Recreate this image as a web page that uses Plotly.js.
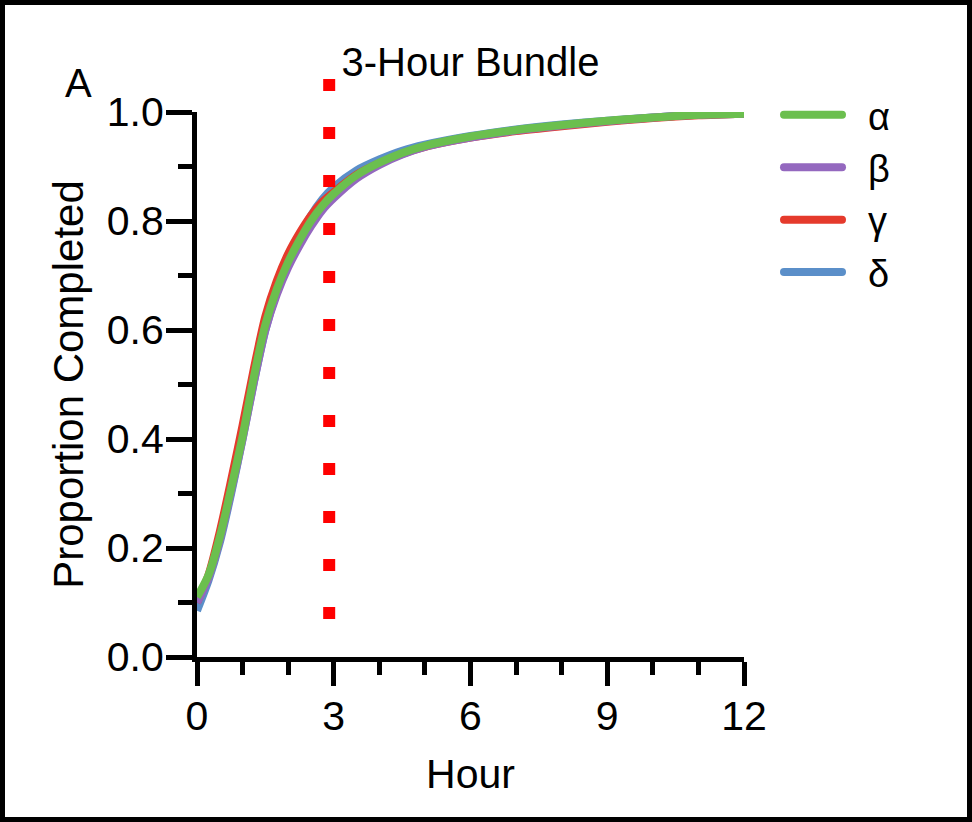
<!DOCTYPE html>
<html>
<head>
<meta charset="utf-8">
<script src="https://cdn.plot.ly/plotly-3.0.1.min.js"></script>
<style>
  html, body { margin: 0; padding: 0; background: #fff; }
  #wrap { position: relative; width: 972px; height: 822px; }
  #chart { width: 972px; height: 822px; }
  #frame { position: absolute; left: 0; top: 0; width: 972px; height: 822px; box-sizing: border-box; border: 5px solid #000; pointer-events: none; }
  #chart .legendlines path { stroke-linecap: round; stroke-dasharray: 58px 200px; }
</style>
</head>
<body>
<div id="wrap"><div id="chart"></div><div id="frame"></div></div>
<script>
// ---- data ----
const hours = [0, 0.25, 0.5, 0.75, 1, 1.25, 1.5, 1.75, 2, 2.25, 2.5, 2.75, 3, 3.5, 4, 4.5, 5, 6, 7, 8, 9, 10, 11, 12];
const alpha = [0.11, 0.15, 0.22, 0.31, 0.405, 0.515, 0.61, 0.675, 0.725, 0.765, 0.80, 0.828, 0.85, 0.884, 0.907, 0.925, 0.938, 0.955, 0.967, 0.976, 0.984, 0.99, 0.995, 0.997];
const beta  = [0.10, 0.145, 0.215, 0.305, 0.40, 0.505, 0.60, 0.665, 0.715, 0.755, 0.79, 0.82, 0.842, 0.878, 0.903, 0.922, 0.936, 0.953, 0.966, 0.975, 0.983, 0.99, 0.995, 0.997];
const gamma = [0.10, 0.15, 0.23, 0.325, 0.425, 0.53, 0.625, 0.69, 0.74, 0.778, 0.81, 0.835, 0.853, 0.885, 0.906, 0.923, 0.936, 0.953, 0.965, 0.974, 0.982, 0.989, 0.994, 0.997];
const delta = [0.085, 0.14, 0.21, 0.30, 0.40, 0.505, 0.60, 0.67, 0.725, 0.77, 0.81, 0.84, 0.862, 0.893, 0.913, 0.929, 0.94, 0.956, 0.968, 0.977, 0.984, 0.99, 0.995, 0.997];
const seriesNames = ['α', 'β', 'γ', 'δ'];
const bundleHour = 2.9;
const xTicks = [0, 3, 6, 9, 12];
const yTicks = [0, 0.2, 0.4, 0.6, 0.8, 1.0];
const yTickText = ['0.0', '0.2', '0.4', '0.6', '0.8', '1.0'];

const colors = {'α': '#6bbf4e', 'β': '#9468bf', 'γ': '#e53a2c', 'δ': '#5b8fc9'};
const FONT = 'Arial, "Liberation Sans", Helvetica, sans-serif';

const seriesData = {'α': alpha, 'β': beta, 'γ': gamma, 'δ': delta};
// draw δ first so α (green) sits on top; legend reversed to show α..δ
const drawOrder = ['δ', 'γ', 'β', 'α'];
const traces = drawOrder.map(n => ({
  type: 'scatter', mode: 'lines', name: n,
  x: hours, y: seriesData[n],
  line: {color: colors[n], width: 8, shape: 'spline', smoothing: 0.8}
}));

const layout = {
  width: 972, height: 822,
  margin: {l: 197, r: 228, t: 112, b: 165, pad: 0},
  paper_bgcolor: '#fff', plot_bgcolor: '#fff',
  font: {family: FONT, color: '#000', size: 41},
  showlegend: true,
  title: {text: '3-Hour Bundle', font: {family: FONT, size: 40, color: '#000'},
          x: 0.5, xref: 'paper', xanchor: 'center', y: 1 - 62/822, yref: 'container', yanchor: 'middle'},
  xaxis: {
    range: [0, 12], tickvals: xTicks, ticktext: xTicks.map(String),
    showgrid: false, zeroline: false, showline: true, linecolor: '#000', linewidth: 5,
    ticks: 'outside', ticklen: 24, tickwidth: 5, tickcolor: '#000', ticklabelstandoff: -5,
    minor: {dtick: 1, tick0: 0, ticks: 'outside', ticklen: 13, tickwidth: 5, tickcolor: '#000', showgrid: false},
    tickfont: {family: FONT, size: 41, color: '#000'},
    title: {text: 'Hour', font: {family: FONT, size: 41, color: '#000'}, standoff: 23},
    fixedrange: true
  },
  yaxis: {
    range: [0, 1], tickvals: yTicks, ticktext: yTickText,
    showgrid: false, zeroline: false, showline: true, linecolor: '#000', linewidth: 5,
    ticks: 'outside', ticklen: 26, tickwidth: 5, tickcolor: '#000', ticklabelstandoff: -6,
    minor: {dtick: 0.1, tick0: 0, ticks: 'outside', ticklen: 14, tickwidth: 5, tickcolor: '#000', showgrid: false},
    tickfont: {family: FONT, size: 41, color: '#000'},
    title: {text: 'Proportion Completed', font: {family: FONT, size: 42, color: '#000'}, standoff: 12},
    fixedrange: true
  },
  legend: {
    x: (779 - 197) / 547, xanchor: 'left', y: 1.052, yanchor: 'top',
    traceorder: 'reversed', font: {family: FONT, size: 38, color: '#000'},
    bgcolor: 'rgba(0,0,0,0)', borderwidth: 0, itemwidth: 79, tracegroupgap: 0
  },
  shapes: [{
    type: 'line', xref: 'x', yref: 'paper',
    x0: bundleHour, x1: bundleHour, y0: (657 - 79) / 545, y1: (657 - 619) / 545,
    line: {color: '#ff0000', width: 12, dash: '12px,36px'}, layer: 'above'
  }],
  annotations: [{
    text: 'A', xref: 'paper', yref: 'paper', x: (78 - 197) / 547, y: (657 - 83) / 545,
    xanchor: 'center', yanchor: 'middle', showarrow: false,
    font: {family: FONT, size: 40, color: '#000'}
  }]
};

Plotly.newPlot('chart', traces, layout, {displayModeBar: false, staticPlot: true});
</script>
</body>
</html>
